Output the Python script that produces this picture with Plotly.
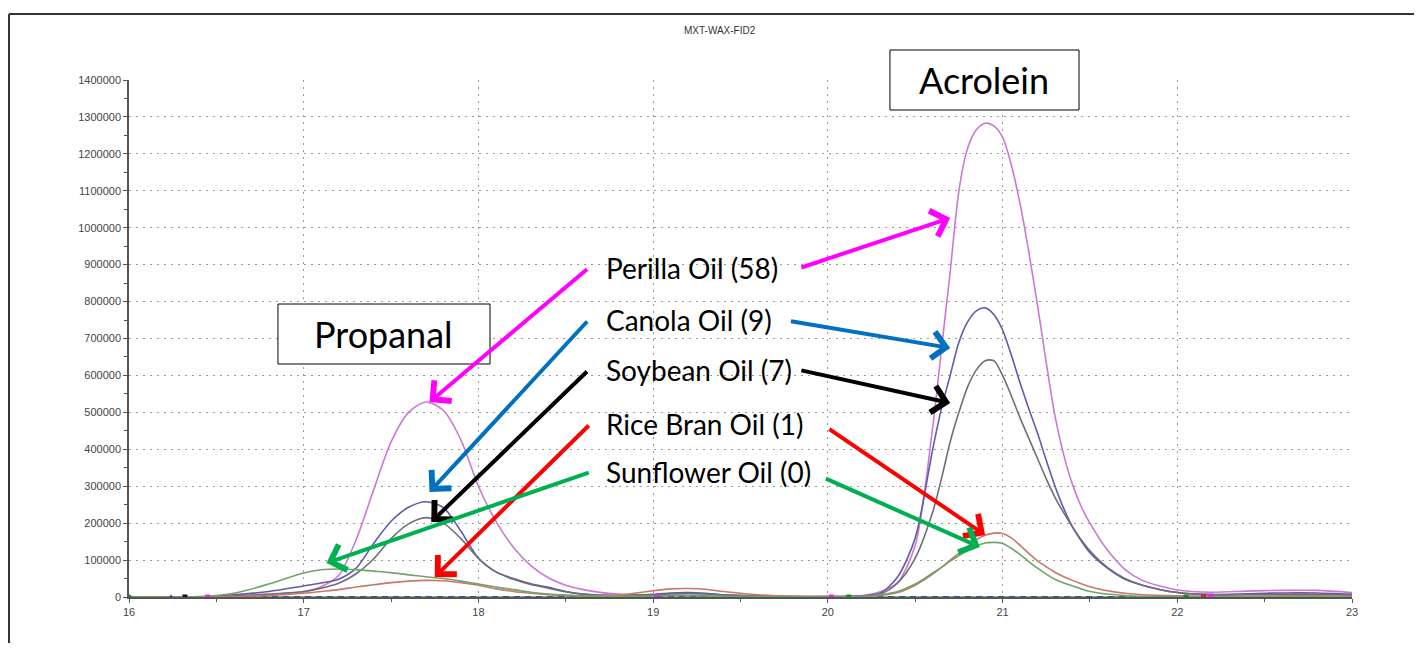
import plotly.graph_objects as go

# ---------------- data ----------------
time_min = [16.0, 16.2, 16.4, 16.6, 16.8,
            17.0, 17.1, 17.2, 17.3, 17.4, 17.5, 17.6, 17.7, 17.8, 17.9,
            18.0, 18.1, 18.2, 18.3, 18.4, 18.5, 18.6, 18.8,
            19.0, 19.1, 19.2, 19.3, 19.4, 19.6, 19.8, 20.0,
            20.2, 20.3, 20.4, 20.5,
            20.6, 20.65, 20.7, 20.75, 20.8, 20.85, 20.9, 20.95, 21.0, 21.05, 21.1, 21.15, 21.2, 21.25, 21.3,
            21.35, 21.4, 21.45, 21.5, 21.6, 21.7, 21.8,
            22.0, 22.2, 22.4, 22.6, 22.8, 23.0]

perilla = [0, 0, 0, 2000, 6000,
           14000, 28000, 58000, 155000, 290000, 420000, 500000, 528000, 505000, 425000,
           300000, 205000, 135000, 85000, 52000, 32000, 20000, 8000,
           6000, 9000, 10000, 9000, 6000, 3000, 1500, 1000,
           4000, 14000, 40000, 140000,
           460000, 670000, 880000, 1100000, 1215000, 1265000, 1283000, 1276000, 1245000, 1170000, 1065000, 935000, 790000, 635000, 490000,
           385000, 305000, 245000, 200000, 127000, 75000, 45000,
           19000, 13000, 16000, 18000, 18000, 12000]

canola = [0, 0, 0, 6000, 15000,
          30000, 38000, 48000, 78000, 145000, 205000, 243000, 258000, 242000, 178000,
          105000, 68000, 50000, 36000, 26000, 15000, 8000, 4000,
          7000, 11000, 12000, 10000, 6000, 2000, 1000, 1000,
          3000, 10000, 55000, 160000,
          400000, 510000, 600000, 690000, 745000, 775000, 783000, 765000, 723000, 655000, 580000, 510000, 444000, 370000, 300000,
          240000, 190000, 152000, 120000, 78000, 48000, 32000,
          12000, 7000, 9000, 11000, 11000, 8000]

soybean = [0, 0, 0, 3000, 8000,
           15000, 24000, 37000, 63000, 103000, 158000, 198000, 215000, 200000, 158000,
           105000, 68000, 48000, 34000, 24000, 14000, 7000, 3000,
           5000, 8000, 9000, 8000, 5000, 2000, 1000, 1000,
           2000, 8000, 38000, 105000,
           230000, 320000, 420000, 500000, 569000, 615000, 640000, 640000, 600000, 545000, 485000, 430000, 375000, 320000, 270000,
           228000, 190000, 155000, 125000, 80000, 50000, 32000,
           12000, 5000, 6000, 7000, 7000, 5000]

rice_bran = [0, 0, 0, 1000, 4000,
             10000, 15000, 20000, 27000, 33000, 39000, 43000, 45000, 44000, 39000,
             32000, 22000, 15000, 10000, 6000, 4000, 3000, 5000,
             17000, 22000, 23000, 21000, 15000, 6000, 2000, 1000,
             1000, 4000, 12000, 32000,
             62000, 80000, 100000, 118000, 137000, 155000, 167000, 173000, 172000, 160000, 140000, 118000, 98000, 82000, 67000,
             55000, 45000, 36000, 28000, 17000, 10000, 6000,
             3000, 2000, 2000, 3000, 3000, 2000]

sunflower = [0, 0, 1000, 10000, 35000,
             65000, 74000, 76000, 74000, 70000, 66000, 60000, 55000, 50000, 43000,
             35000, 27000, 20000, 13000, 8000, 5000, 3000, 2000,
             3000, 4000, 4000, 3000, 2000, 1000, 500, 500,
             1000, 6000, 15000, 35000,
             65000, 80000, 97000, 112000, 127000, 138000, 146000, 148000, 145000, 132000, 115000, 96000, 78000, 62000, 48000,
             38000, 30000, 22000, 15000, 8000, 4000, 2000,
             1000, 500, 500, 500, 500, 500]

baseline_x = [16.0, 23.0]
baseline_y = [0, 0]

marker_x = [16.0, 16.24, 16.32, 16.45, 19.02, 20.02, 20.12, 22.05, 22.15, 22.19]
marker_y = [0, 0, 0, 0, 0, 0, 0, 0, 0, 3000]
marker_c = ["#1a8a1a", "#3a3aa0", "#111111", "#ee22ee", "#ee22ee", "#ee22ee", "#1a8a1a", "#1a8a1a", "#cc2222", "#ee22ee"]
marker_s = ["circle", "triangle-up", "square", "square", "square", "square", "square", "square", "square", "circle"]

oil_labels = ["Perilla Oil (58)", "Canola Oil (9)", "Soybean Oil (7)", "Rice Bran Oil (1)", "Sunflower Oil (0)"]
arrow_colors = ["#ff00ff", "#0070c0", "#000000", "#ff0000", "#00b050"]
label_y = [890900, 750100, 614700, 468500, 338500]
label_x = 18.72
# arrows: (tail_x, tail_y, head_x, head_y)
left_arrows = [(18.63, 890900, 17.72, 528000),
               (18.63, 750100, 17.72, 284300),
               (18.63, 614700, 17.73, 203100),
               (18.64, 468500, 17.75, 54200),
               (18.64, 338500, 17.13, 92100)]
right_arrows = [(19.84, 890900, 20.70, 1026300),
                (19.78, 747400, 20.70, 674200),
                (19.84, 614700, 20.70, 525300),
                (20.00, 457600, 20.90, 167900),
                (19.98, 322200, 20.87, 135400)]

series = [("Perilla", perilla, "#cc77d8"),
          ("Canola", canola, "#5c5cae"),
          ("Soybean", soybean, "#6e6e76"),
          ("Rice Bran", rice_bran, "#c87868"),
          ("Sunflower", sunflower, "#6ea468")]

# ---------------- figure ----------------
fig = go.Figure()

fig.add_trace(go.Scatter(x=baseline_x, y=baseline_y, mode="lines",
                         line=dict(color="#5aa05a", width=1.5), hoverinfo="skip", showlegend=False))
fig.add_trace(go.Scatter(x=baseline_x, y=baseline_y, mode="lines",
                         line=dict(color="#1a3a9a", width=1.5, dash="6px,5px"), hoverinfo="skip", showlegend=False))

for name, vals, col in series:
    fig.add_trace(go.Scatter(x=time_min, y=vals, mode="lines", name=name,
                             line=dict(color=col, width=1.6, shape="spline", smoothing=0.8),
                             showlegend=False))

fig.add_trace(go.Scatter(x=marker_x, y=marker_y, mode="markers",
                         marker=dict(color=marker_c, symbol=marker_s, size=5),
                         hoverinfo="skip", showlegend=False))

FONT = "Lato, Open Sans, sans-serif"
annotations = []
for txt, yy in zip(oil_labels, label_y):
    annotations.append(dict(x=label_x, y=yy, xref="x", yref="y", text=txt, showarrow=False,
                            xanchor="left", yanchor="middle",
                            font=dict(family=FONT, size=28, color="#000000")))
for (tx, ty, hx, hy), col in zip(left_arrows + right_arrows, arrow_colors + arrow_colors):
    annotations.append(dict(x=hx, y=hy, ax=tx, ay=ty, xref="x", yref="y", axref="x", ayref="y",
                            text="", showarrow=True, arrowhead=4, arrowsize=1.3, arrowwidth=4,
                            arrowcolor=col, standoff=0, startstandoff=0))

# boxes with peak names
annotations.append(dict(x=(0.1218 + 0.2952) / 2, y=(0.4507 + 0.5667) / 2, xref="paper", yref="paper",
                        text="Propanal", showarrow=False, xanchor="center", yanchor="middle",
                        font=dict(family=FONT, size=36, color="#000000")))
annotations.append(dict(x=(0.6222 + 0.7768) / 2, y=(0.942 + 1.058) / 2, xref="paper", yref="paper",
                        text="Acrolein", showarrow=False, xanchor="center", yanchor="middle",
                        font=dict(family=FONT, size=36, color="#000000")))
# chart title
annotations.append(dict(x=0.483, y=1.095, xref="paper", yref="paper", text="MXT-WAX-FID2",
                        showarrow=False, xanchor="center", yanchor="middle",
                        font=dict(family="Liberation Sans Narrow, Liberation Sans, Arial", size=10, color="#333333")))

shapes = [
    dict(type="rect", xref="paper", yref="paper", x0=0.1218, x1=0.2952, y0=0.4507, y1=0.5667,
         line=dict(color="#000000", width=1), fillcolor="rgba(255,255,255,1)", layer="above"),
    dict(type="rect", xref="paper", yref="paper", x0=0.6222, x1=0.7768, y0=0.942, y1=1.058,
         line=dict(color="#000000", width=1), fillcolor="rgba(255,255,255,1)", layer="above"),
    # outer frame (top and left)
    dict(type="line", xref="paper", yref="paper", x0=-0.0981, x1=1.06, y0=1.1277, y1=1.1277,
         line=dict(color="#333333", width=2)),
    dict(type="line", xref="paper", yref="paper", x0=-0.0981, x1=-0.0981, y0=1.1277, y1=-0.12,
         line=dict(color="#333333", width=2)),
]

# the page body has an 8px margin, so the figure is sized/offset to fit inside it
fig.update_layout(
    width=1406, height=635,
    margin=dict(l=121, r=62, t=72, b=46),
    paper_bgcolor="white", plot_bgcolor="white",
    annotations=annotations, shapes=shapes,
    showlegend=False,
)

fig.update_xaxes(range=[16, 23], dtick=1, tick0=16, showgrid=True,
                 gridcolor="#9a9a9a", griddash="2px,5px", gridwidth=1,
                 showline=True, linecolor="#555555", linewidth=1.5,
                 ticks="outside", ticklen=4, tickcolor="#555555",
                 minor=dict(dtick=0.5, ticks="outside", ticklen=3, tickcolor="#555555", showgrid=False),
                 tickfont=dict(family="Liberation Sans, Arial", size=11, color="#444444"),
                 zeroline=False)
fig.update_yaxes(range=[0, 1400000], dtick=100000, tick0=0, tickformat="d", showgrid=True,
                 gridcolor="#9a9a9a", griddash="2px,5px", gridwidth=1,
                 showline=True, linecolor="#555555", linewidth=1.5,
                 ticks="outside", ticklen=4, tickcolor="#555555",
                 minor=dict(dtick=50000, ticks="outside", ticklen=3, tickcolor="#555555", showgrid=False),
                 tickfont=dict(family="Liberation Sans Narrow, Liberation Sans, Arial", size=11, color="#444444"),
                 zeroline=False)

fig.write_html("out.html")
